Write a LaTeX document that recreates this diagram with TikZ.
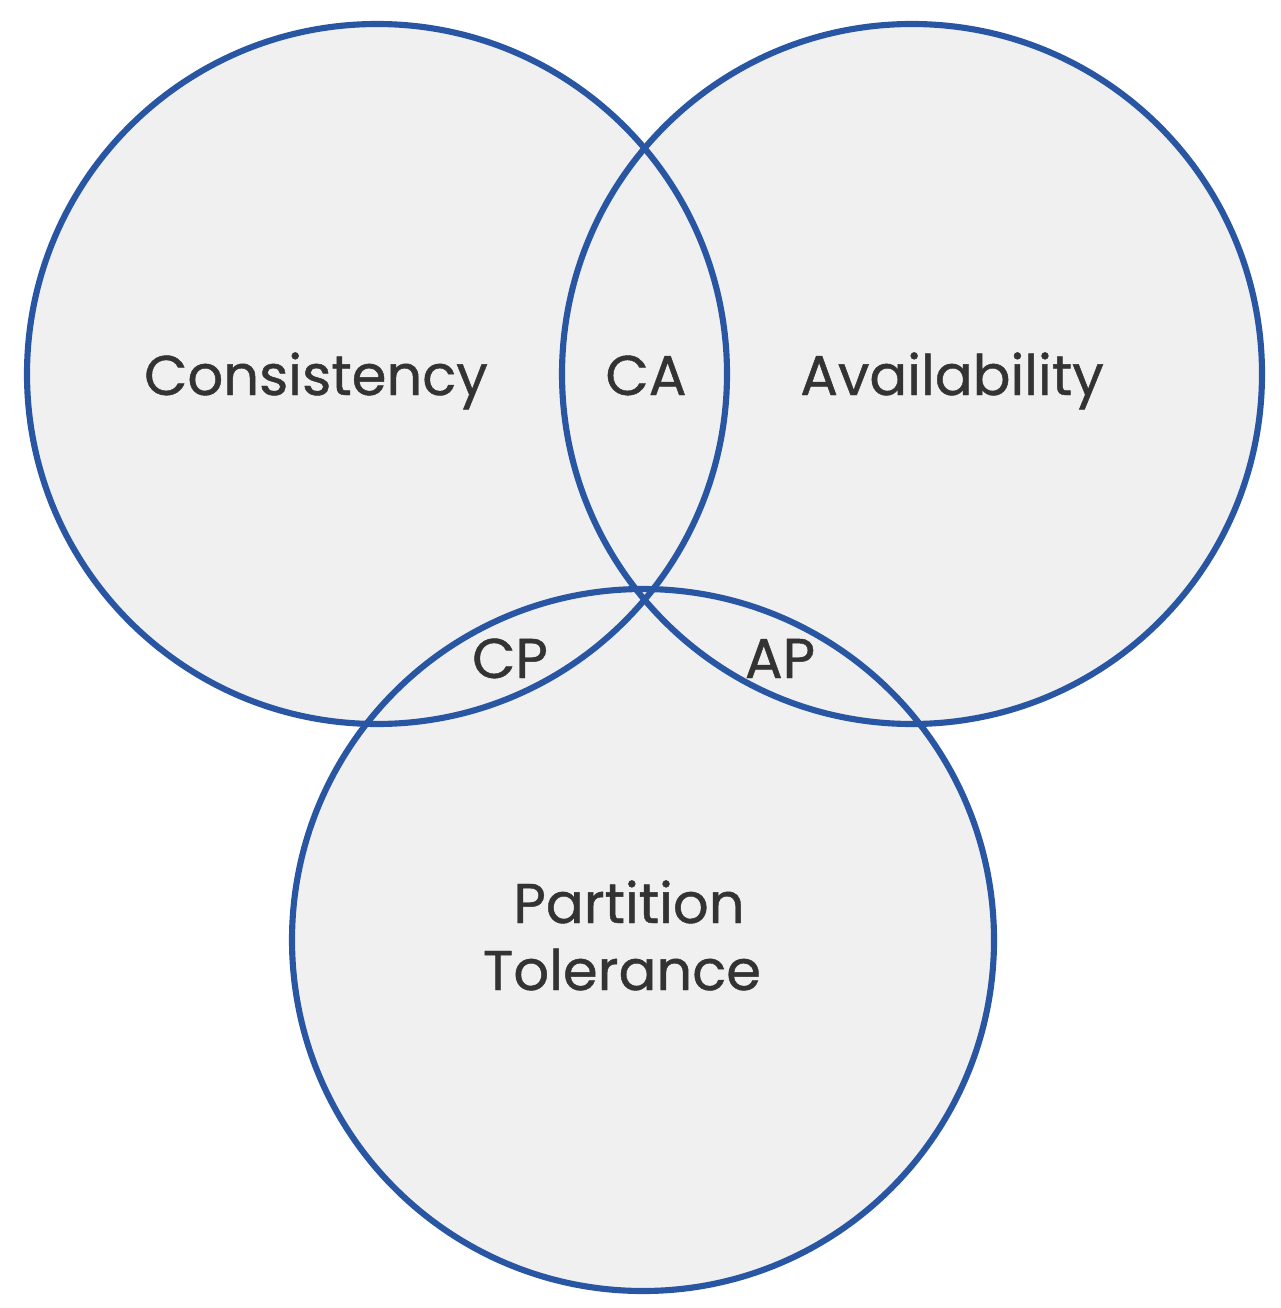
\documentclass[tikz,border=0pt]{standalone}
\usepackage{fontspec}
\setmainfont{Poppins}[UprightFeatures={FakeBold=0.8}]
\usepackage{tikz}
\definecolor{capblue}{RGB}{41,86,163}
\definecolor{capfill}{RGB}{240,240,240}
\definecolor{captext}{RGB}{51,51,51}
\tikzset{every picture/.style={line width=0.75pt}}
\tikzset{
  setline/.style={draw=capblue, line width=4.6pt},
  setfill/.style={fill=capfill},
  setlabel/.style={anchor=base, inner sep=0.75pt, text=captext, font=\fontsize{42}{50}\selectfont, align=center}
}

\begin{document}
\begin{tikzpicture}[x=0.75pt,y=0.75pt,yscale=-1,xscale=1]
\useasboundingbox (0,0) rectangle (1280,1308);

%Shape: Circle fills
\fill [setfill] (377,374) circle (350);
\fill [setfill] (912,374) circle (350);
\fill [setfill] (643,940) circle (351);
%Shape: Circle outlines
\draw [setline] (377,374) circle (350);
\draw [setline] (912,374) circle (350);
\draw [setline] (643,940) circle (351);

% Text Node
\node [setlabel] (consistency) at (316,395) {Consistency};
% Text Node
\node [setlabel] (ca) at (646,395) {CA};
% Text Node
\node [setlabel] (availability) at (952,395) {Availability};
% Text Node
\node [setlabel] (cp) at (510,678) {CP};
% Text Node
\node [setlabel] (ap) at (780,678) {AP};
% Text Node
\node [setlabel] (partition) at (629,923) {Partition};
% Text Node
\node [setlabel] (tolerance) at (622,990) {Tolerance};

\end{tikzpicture}
\end{document}
